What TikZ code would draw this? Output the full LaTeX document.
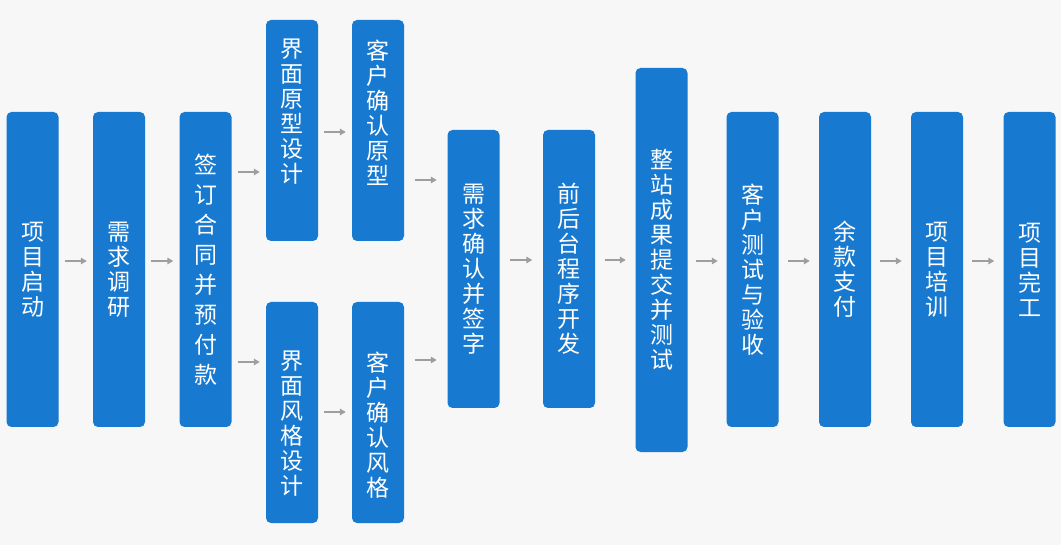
\documentclass[tikz,border=0pt]{standalone}
\usepackage{fontspec}
\setmainfont{Noto Sans CJK SC}
\usetikzlibrary{arrows.meta}
\definecolor{stageblue}{HTML}{1779CF}
\definecolor{bggray}{HTML}{F7F7F7}
\definecolor{arrowgray}{HTML}{9E9E9E}
\tikzset{
    stage/.style = {rectangle, rounded corners=5pt, fill=stageblue, minimum width=52pt, inner sep=0pt, text=white, align=center, font=\fontsize{23}{25}\selectfont},
    stagetext/.style = {text=white, align=center, inner sep=0pt, font=\fontsize{23}{25}\selectfont},
    edgeg/.style = {-{Triangle[length=6pt,width=6.5pt]}, line width=2.2pt, arrowgray, shorten <=#1, shorten >=#1},
    edgeg/.default = 6pt
}

\begin{document}
\begin{tikzpicture}[x=1pt, y=-1pt]
  \fill[bggray] (0,0) rectangle (1061,545);

  \node[stage, minimum height=315pt] at (32.5,269.5) (start) {项\\目\\启\\动};
  \node[stage, minimum height=315pt] at (119,269.5) (research) {需\\求\\调\\研};
  \node[stage, minimum height=315pt, font=\fontsize{23}{30}\selectfont] at (205.5,269.5) (contract) {签\\订\\合\\同\\并\\预\\付\\款};

  \node[stage, minimum height=221pt, label={[stagetext, yshift=19pt]center:界\\面\\原\\型\\设\\计}] at (292,130.5) (uiproto) {};
  \node[stage, minimum height=221pt, label={[stagetext, yshift=18pt]center:客\\户\\确\\认\\原\\型}] at (378,130.5) (confproto) {};
  \node[stage, minimum height=221pt, label={[stagetext, yshift=-11.5pt]center:界\\面\\风\\格\\设\\计}] at (292,412.5) (uistyle) {};
  \node[stage, minimum height=221pt, label={[stagetext, yshift=-12.5pt]center:客\\户\\确\\认\\风\\格}] at (378,412.5) (confstyle) {};

  \node[stage, minimum height=278pt] at (473.5,269) (signreq) {需\\求\\确\\认\\并\\签\\字};
  \node[stage, minimum height=278pt] at (569,269) (develop) {前\\后\\台\\程\\序\\开\\发};
  \node[stage, minimum height=384pt] at (661.5,260) (systest) {整\\站\\成\\果\\提\\交\\并\\测\\试};
  \node[stage, minimum height=315pt] at (752.5,269.5) (accept) {客\\户\\测\\试\\与\\验\\收};
  \node[stage, minimum height=315pt] at (845,269.5) (payment) {余\\款\\支\\付};
  \node[stage, minimum height=315pt] at (937,269.5) (training) {项\\目\\培\\训};
  \node[stage, minimum height=315pt] at (1029.5,269.5) (finish) {项\\目\\完\\工};

  % arrows
  \draw[edgeg] (start.east |- 0,261) -- (research.west |- 0,261);
  \draw[edgeg] (research.east |- 0,261) -- (contract.west |- 0,261);
  \draw[edgeg] (contract.east |- 0,172) -- (uiproto.west |- 0,172);
  \draw[edgeg] (contract.east |- 0,362) -- (uistyle.west |- 0,362);
  \draw[edgeg] (uiproto.east |- 0,132) -- (confproto.west |- 0,132);
  \draw[edgeg] (uistyle.east |- 0,412) -- (confstyle.west |- 0,412);
  \draw[edgeg=10.5pt] (confproto.east |- 0,180) -- (signreq.west |- 0,180);
  \draw[edgeg=10.5pt] (confstyle.east |- 0,360) -- (signreq.west |- 0,360);
  \draw[edgeg=10.5pt] (signreq.east |- 0,260) -- (develop.west |- 0,260);
  \draw[edgeg=9.5pt] (develop.east |- 0,260) -- (systest.west |- 0,260);
  \draw[edgeg=8.5pt] (systest.east |- 0,261) -- (accept.west |- 0,261);
  \draw[edgeg=9pt] (accept.east |- 0,261) -- (payment.west |- 0,261);
  \draw[edgeg=9pt] (payment.east |- 0,261) -- (training.west |- 0,261);
  \draw[edgeg=9pt] (training.east |- 0,261) -- (finish.west |- 0,261);
\end{tikzpicture}
\end{document}
